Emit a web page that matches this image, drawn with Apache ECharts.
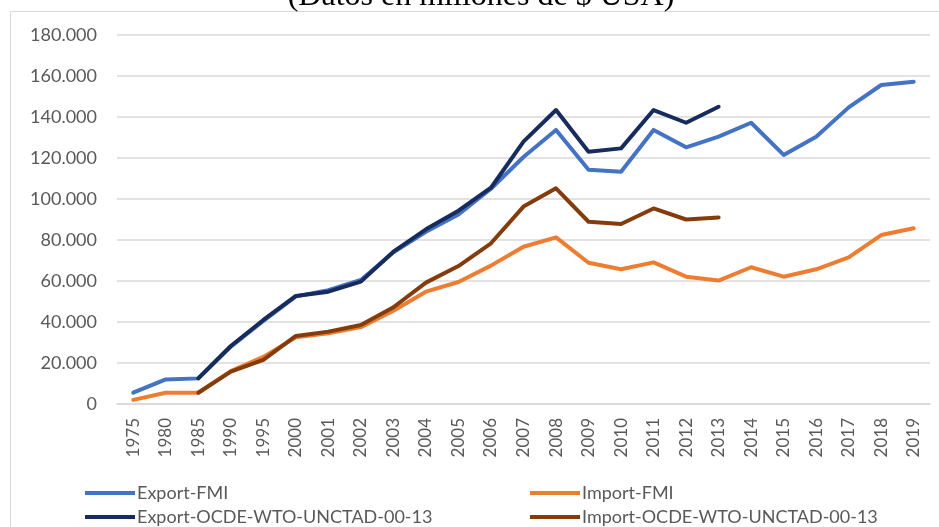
<!DOCTYPE html>
<html>
<head>
<meta charset="utf-8">
<script src="https://cdn.jsdelivr.net/npm/echarts@6/dist/echarts.min.js"></script>
<style>
  html, body { margin: 0; padding: 0; background: #fff; }
  #chart { width: 939px; height: 527px; }
</style>
</head>
<body>
<div id="chart"></div>
<script>
// años (categorías del eje X)
var years = ['1975', '1980', '1985', '1990', '1995', '2000', '2001', '2002', '2003', '2004',
  '2005', '2006', '2007', '2008', '2009', '2010', '2011', '2012', '2013', '2014',
  '2015', '2016', '2017', '2018', '2019']

// valores en millones de $ USA
var exportFMI = [5500, 12000, 12500, 28000, 40500, 52500, 55500, 60500, 74000, 84000,
  92500, 105000, 120500, 133700, 114300, 113300, 133700, 125200, 130400, 137200,
  121500, 130400, 144700, 155600, 157200]
var importFMI = [2000, 5500, 5500, 16000, 23000, 32500, 34500, 37500, 45500, 54800,
  59500, 67500, 76700, 81300, 68900, 65700, 69100, 62100, 60200, 66700,
  62100, 65700, 71500, 82400, 85700]
var exportOCDE = [null, null, 12500, 28300, 41000, 52700, 54800, 59700, 74300, 85200,
  94300, 105500, 128000, 143400, 123000, 124700, 143400, 137200, 145000, null,
  null, null, null, null, null]
var importOCDE = [null, null, 5500, 15800, 21500, 33200, 35300, 38500, 47200, 59200,
  67300, 78400, 96300, 105200, 88900, 87800, 95400, 90000, 91000, null,
  null, null, null, null, null]

var yTicks = [0, 20000, 40000, 60000, 80000, 100000, 120000, 140000, 160000, 180000]

var names = ['Export-FMI', 'Import-FMI', 'Export-OCDE-WTO-UNCTAD-00-13', 'Import-OCDE-WTO-UNCTAD-00-13']
var colors = ['#4472C4', '#ED7D31', '#172C5C', '#843C0C']
var values = [exportFMI, importFMI, exportOCDE, importOCDE]

function miles (v) {
  return String(v).replace(/\B(?=(\d{3})+(?!\d))/g, '.')
}

var textFont = 'Lato'
var textColor = '#595959'

// una leyenda por serie, en dos filas y dos columnas
function legendFor (name, left, top) {
  return {
    left: left,
    top: top,
    itemWidth: 50,
    itemHeight: 4,
    icon: 'rect',
    padding: 0,
    data: [name],
    textStyle: { fontFamily: textFont, fontSize: 18, color: textColor, padding: [0, 0, 0, -3] }
  }
}

var option = {
  animation: false,
  backgroundColor: '#fff',
  color: colors,
  graphic: [
    {
      type: 'rect',
      shape: { x: 10.5, y: 11.5, width: 1000, height: 1000 },
      style: { fill: 'none', stroke: '#d9d9d9', lineWidth: 1 }
    },
    {
      type: 'text',
      x: 481,
      y: 13,
      style: {
        text: '(Datos en millones de $ USA)',
        font: '32px "Liberation Serif", "DejaVu Serif", serif',
        fill: '#000',
        align: 'center',
        verticalAlign: 'bottom'
      }
    }
  ],
  legend: [
    legendFor(names[0], 85, 484),
    legendFor(names[2], 85, 508),
    legendFor(names[1], 530, 484),
    legendFor(names[3], 530, 508)
  ],
  grid: { left: 117, right: 9, top: 35, bottom: 123 },
  xAxis: {
    type: 'category',
    data: years,
    boundaryGap: true,
    axisLine: { lineStyle: { color: '#d9d9d9', width: 1.5 } },
    axisTick: { show: false },
    axisLabel: {
      rotate: 90,
      interval: 0,
      margin: 14,
      fontFamily: textFont,
      fontSize: 17,
      color: textColor
    }
  },
  yAxis: {
    type: 'value',
    min: 0,
    max: yTicks[yTicks.length - 1],
    interval: yTicks[1] - yTicks[0],
    axisLine: { show: false },
    axisTick: { show: false },
    splitLine: { lineStyle: { color: '#d9d9d9', width: 1.5 } },
    axisLabel: {
      margin: 20,
      fontFamily: textFont,
      fontSize: 18,
      color: textColor,
      formatter: function (v) { return miles(v) }
    }
  },
  series: names.map(function (n, i) {
    return {
      name: n,
      type: 'line',
      data: values[i],
      showSymbol: false,
      connectNulls: false,
      lineStyle: { width: 4, color: colors[i], cap: 'round', join: 'round' },
      itemStyle: { color: colors[i] }
    }
  })
}

var myChart = echarts.init(document.getElementById('chart'))
myChart.setOption(option)
</script>
</body>
</html>
